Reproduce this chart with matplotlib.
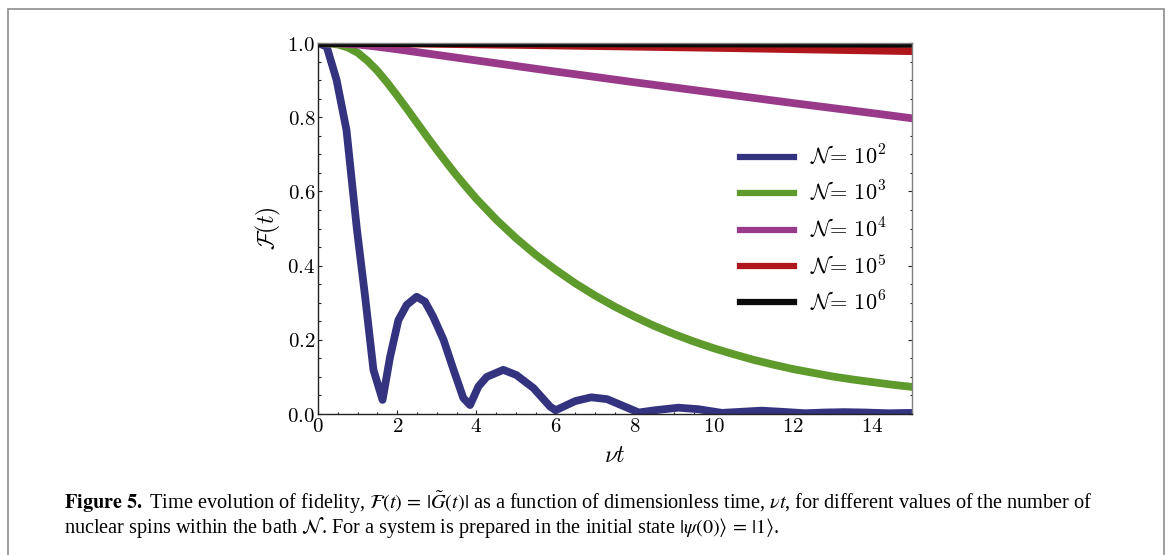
import numpy as np
import matplotlib
matplotlib.use('Agg')
import matplotlib.pyplot as plt
from matplotlib.patches import Rectangle
from matplotlib.ticker import MultipleLocator

plt.rcParams['mathtext.fontset'] = 'cm'
plt.rcParams['font.family'] = 'serif'
plt.rcParams['font.serif'] = ['DejaVu Serif']

# fidelity curves
t_1e2 = [0, 0.22, 0.47, 0.72, 0.98, 1.19, 1.40, 1.63, 1.82, 2.03, 2.24, 2.49, 2.70,
         2.91, 3.17, 3.42, 3.67, 3.84, 4.05, 4.26, 4.68, 5.01, 5.44, 5.86, 6.0, 6.2,
         6.5, 6.9, 7.3, 7.7, 8.1, 8.5, 9.1, 9.6, 10.2, 10.7, 11.2, 11.7, 12.3, 12.8,
         13.3, 13.8, 14.4, 15.0]
f_1e2 = [1.0, 0.99, 0.90, 0.765, 0.50, 0.316, 0.119, 0.038, 0.154, 0.253, 0.294, 0.316,
         0.303, 0.262, 0.20, 0.12, 0.043, 0.024, 0.074, 0.10, 0.119, 0.105, 0.07, 0.02,
         0.01, 0.02, 0.035, 0.045, 0.04, 0.022, 0.004, 0.01, 0.017, 0.013, 0.003, 0.006,
         0.009, 0.006, 0.002, 0.004, 0.005, 0.004, 0.002, 0.003]

t_1e3 = [0, 0.25, 0.5, 0.75, 1, 1.25, 1.5, 1.75, 2, 2.25, 2.5, 2.75, 3, 3.25, 3.5,
         3.75, 4, 4.5, 5, 5.5, 6, 6.5, 7, 7.5, 8, 8.5, 9, 9.5, 10, 10.5, 11, 11.5,
         12, 12.5, 13, 13.5, 14, 14.5, 15]
f_1e3 = [1.0, 0.999, 0.996, 0.988, 0.974, 0.952, 0.925, 0.893, 0.858, 0.822, 0.785,
         0.748, 0.712, 0.677, 0.643, 0.611, 0.580, 0.524, 0.474, 0.429, 0.389, 0.352,
         0.319, 0.289, 0.262, 0.237, 0.215, 0.195, 0.177, 0.161, 0.146, 0.133, 0.121,
         0.111, 0.101, 0.093, 0.086, 0.079, 0.073]

t_1e4 = [0, 0.5, 1, 1.5, 2, 3, 4, 5, 6, 8, 10, 12, 14, 15]
f_1e4 = [1.0, 0.999, 0.996, 0.99, 0.983, 0.968, 0.953, 0.938, 0.923, 0.894, 0.866,
         0.838, 0.811, 0.797]

t_1e5 = [0, 2, 5, 10, 15]
f_1e5 = [1.0, 0.999, 0.995, 0.987, 0.978]

t_1e6 = [0, 15]
f_1e6 = [1.0, 0.998]

series = [(t_1e2, f_1e2, '#33337f', r'$\mathcal{N}\!=\,10^2$'),
          (t_1e3, f_1e3, '#5e9a2c', r'$\mathcal{N}\!=\,10^3$'),
          (t_1e4, f_1e4, '#983a89', r'$\mathcal{N}\!=\,10^4$'),
          (t_1e5, f_1e5, '#b0171d', r'$\mathcal{N}\!=\,10^5$'),
          (t_1e6, f_1e6, '#0b0b0b', r'$\mathcal{N}\!=\,10^6$')]

xticks = [0, 2, 4, 6, 8, 10, 12, 14]
xtick_labels = ['0', '2', '4', '6', '8', '10', '12', '14']
yticks = [0.0, 0.2, 0.4, 0.6, 0.8, 1.0]
ytick_labels = ['0.0', '0.2', '0.4', '0.6', '0.8', '1.0']

fig = plt.figure(figsize=(11.7, 5.55), dpi=100)
ax = fig.add_axes([318 / 1170, 141 / 555, 594 / 1170, 371 / 555])

for t, f, c, lab in series:
    ax.plot(t, f, color=c, lw=5.6, label=lab, solid_joinstyle='round')

ax.set_xlim(0, 15)
ax.set_ylim(0, 1.0)
ax.set_xticks(xticks)
ax.set_xticklabels(['$%s$' % s for s in xtick_labels])
ax.set_yticks(yticks)
ax.set_yticklabels(['$%s$' % s for s in ytick_labels])
ax.xaxis.set_minor_locator(MultipleLocator(0.5))
ax.yaxis.set_minor_locator(MultipleLocator(0.05))
ax.tick_params(which='both', direction='in', top=True, right=True, width=0.8,
               labelsize=15, pad=2, color='#222222')
ax.tick_params(which='major', length=3)
ax.tick_params(which='minor', length=1.8)
for side in ['left', 'bottom']:
    ax.spines[side].set_color('#222222')
for side in ['right', 'top']:
    ax.spines[side].set_color('#808080')
for sp in ax.spines.values():
    sp.set_linewidth(1.0)

ax.set_xlabel(r'$\nu t$', fontsize=17, labelpad=6)
ax.set_ylabel(r'$\mathcal{F}(t)$', fontsize=17, labelpad=3)

leg = ax.legend(loc='upper left', bbox_to_anchor=(0.71, 0.727), frameon=False,
                fontsize=16, handlelength=2.45, handletextpad=0.7, labelspacing=0.52,
                borderpad=0, borderaxespad=0)
for line in leg.get_lines():
    line.set_linewidth(4.5)

# caption underneath, inside the grey frame
cap1 = (r'$\mathbf{Figure\ 5.}$ Time evolution of fidelity, $\mathcal{F}(t)\,=\,|\tilde{G}(t)|$'
        r' as a function of dimensionless time, $\nu t$, for different values of the number of')
cap2 = (r'nuclear spins within the bath $\mathcal{N}$. For a system is prepared in the initial'
        r' state $|\psi(0)\rangle\,=\,|1\rangle$.')
fig.text(64 / 1170, 1 - 503 / 555, cap1, fontsize=14.6, family='Liberation Serif',
         math_fontfamily='stix', va='center', ha='left')
fig.text(64 / 1170, 1 - 527 / 555, cap2, fontsize=14.6, family='Liberation Serif',
         math_fontfamily='stix', va='center', ha='left')

fig.add_artist(Rectangle((8 / 1170, -0.05), 1156 / 1170, 546 / 555 + 0.05,
                         transform=fig.transFigure, fill=False, ec='#8c8c8c', lw=1.2))

fig.savefig('out.png', dpi=100)
